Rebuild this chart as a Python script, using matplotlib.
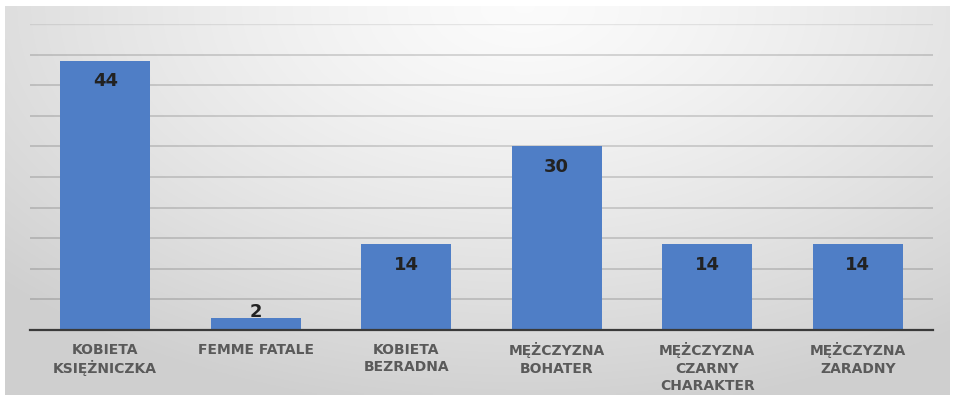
import numpy as np
import matplotlib
matplotlib.use("Agg")
import matplotlib.pyplot as plt

# === Data ===
categories = [
    "KOBIETA\nKSIĘŻNICZKA",
    "FEMME FATALE",
    "KOBIETA\nBEZRADNA",
    "MĘŻCZYZNA\nBOHATER",
    "MĘŻCZYZNA\nCZARNY\nCHARAKTER",
    "MĘŻCZYZNA\nZARADNY",
]
counts = [44, 2, 14, 30, 14, 14]

bar_color = "#4f7ec6"
label_color = "#5a5a5a"

fig = plt.figure(figsize=(9.55, 3.96), dpi=100, facecolor="white")

# === Gray panel, light at the top centre and darker towards the edges ===
bg = fig.add_axes([5 / 955, 1 / 396, 945 / 955, 389 / 396], zorder=0)
gx, gy = np.meshgrid(np.linspace(0, 1, 300), np.linspace(0, 1, 120))
r = np.sqrt(((gx - 0.55) / 0.75) ** 2 + ((1 - gy) / 1.05) ** 2)
shade = 0.985 - 0.17 * np.clip(r, 0, 1) ** 1.3
bg.imshow(np.dstack([shade, shade, shade]), aspect="auto", extent=[0, 1, 0, 1],
          origin="lower", interpolation="bilinear")
bg.set_axis_off()

# === Bars ===
ax = fig.add_axes([30 / 955, 1 - 330 / 396, 903 / 955, 306 / 396], zorder=1)
ax.patch.set_visible(False)
x = np.arange(len(categories))
bars = ax.bar(x, counts, width=0.595, color=bar_color, zorder=3)

ax.set_xlim(-0.5, len(categories) - 0.5)
ax.set_ylim(0, 50)
ax.set_yticks(np.arange(5, 50, 5))
ax.yaxis.grid(True, color="black", alpha=0.17, linewidth=1.2, zorder=1)
ax.axhline(50, color="black", alpha=0.08, linewidth=1.0, zorder=1)
ax.tick_params(axis="y", length=0, labelleft=False)
ax.tick_params(axis="x", length=0, pad=9)
for side in ["top", "right", "left"]:
    ax.spines[side].set_visible(False)
ax.spines["bottom"].set_color("#3a3a3a")
ax.spines["bottom"].set_linewidth(1.6)
ax.spines["bottom"].set_zorder(4)

ax.set_xticks(x)
ax.set_xticklabels(categories, fontfamily="DejaVu Sans", fontweight="bold",
                   fontsize=10, color=label_color, linespacing=1.3, va="top")

# value labels: inside the top of the bar, above it when the bar is too short
for rect, v in zip(bars, counts):
    cx = rect.get_x() + rect.get_width() / 2
    if v < 5:
        ax.text(cx, v - 0.5, str(v), ha="center", va="bottom", fontsize=13,
                fontweight="bold", color="#222222", zorder=5)
    else:
        ax.text(cx, v - 1.9, str(v), ha="center", va="top", fontsize=13,
                fontweight="bold", color="#222222", zorder=5)

fig.savefig("out.png", dpi=100, facecolor="white")
